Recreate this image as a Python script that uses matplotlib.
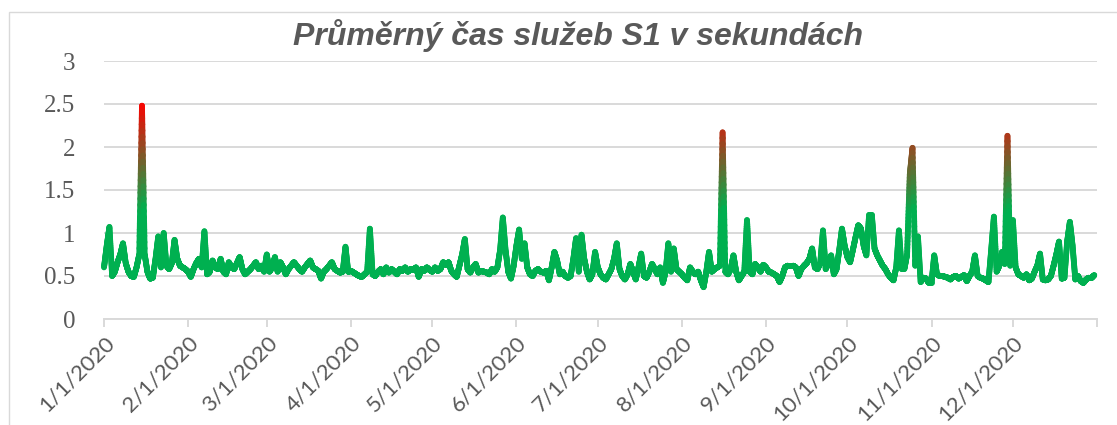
import numpy as np
import pandas as pd
import matplotlib
matplotlib.use('Agg')
import matplotlib.pyplot as plt
import matplotlib.dates as mdates
from matplotlib.collections import LineCollection
from matplotlib.colors import LinearSegmentedColormap, Normalize
from matplotlib.patches import Rectangle
from matplotlib.transforms import ScaledTranslation

title = 'Průměrný čas služeb S1 v sekundách'

# daily average service time (s)
jan = [0.60, 0.85, 1.07, 0.50, 0.55, 0.66, 0.75, 0.88, 0.65, 0.55,
       0.50, 0.49, 0.60, 0.75, 2.48, 0.75, 0.55, 0.47, 0.48, 0.70,
       0.96, 0.60, 1.00, 0.62, 0.58, 0.65, 0.92, 0.70, 0.62, 0.60, 0.58]
feb = [0.55, 0.49, 0.58, 0.65, 0.70, 0.60, 1.02, 0.52, 0.55, 0.68,
       0.60, 0.58, 0.70, 0.55, 0.52, 0.66, 0.60, 0.58, 0.65, 0.72,
       0.58, 0.52, 0.55, 0.58, 0.62, 0.66, 0.58, 0.62, 0.55]
mar = [0.75, 0.55, 0.60, 0.72, 0.55, 0.66, 0.60, 0.52, 0.58, 0.62,
       0.66, 0.62, 0.58, 0.55, 0.60, 0.64, 0.68, 0.60, 0.58, 0.56,
       0.47, 0.55, 0.58, 0.62, 0.66, 0.58, 0.56, 0.54, 0.55, 0.84, 0.55]
apr = [0.56, 0.54, 0.52, 0.50, 0.49, 0.52, 0.55, 1.05, 0.52, 0.50,
       0.55, 0.58, 0.52, 0.60, 0.54, 0.58, 0.55, 0.52, 0.58, 0.56,
       0.60, 0.55, 0.58, 0.57, 0.60, 0.49, 0.58, 0.56, 0.60, 0.57]
may = [0.55, 0.60, 0.56, 0.58, 0.66, 0.63, 0.66, 0.56, 0.52, 0.49,
       0.62, 0.75, 0.93, 0.58, 0.54, 0.60, 0.64, 0.54, 0.56, 0.55,
       0.54, 0.52, 0.58, 0.55, 0.60, 0.80, 1.18, 0.80, 0.55, 0.47, 0.62]
jun = [0.85, 1.04, 0.70, 0.88, 0.60, 0.52, 0.50, 0.56, 0.58, 0.55,
       0.54, 0.56, 0.45, 0.60, 0.78, 0.68, 0.52, 0.55, 0.50, 0.48,
       0.50, 0.70, 0.94, 0.55, 0.98, 0.70, 0.55, 0.46, 0.52, 0.78]
jul = [0.60, 0.52, 0.48, 0.46, 0.52, 0.58, 0.70, 0.88, 0.58, 0.50,
       0.46, 0.52, 0.64, 0.55, 0.46, 0.60, 0.76, 0.50, 0.48, 0.55,
       0.64, 0.58, 0.52, 0.60, 0.42, 0.55, 0.88, 0.55, 0.82, 0.58, 0.55]
aug = [0.52, 0.48, 0.45, 0.60, 0.55, 0.52, 0.55, 0.45, 0.37, 0.55,
       0.78, 0.55, 0.58, 0.60, 0.62, 2.17, 0.55, 0.52, 0.58, 0.74,
       0.55, 0.45, 0.50, 0.55, 1.15, 0.55, 0.52, 0.64, 0.60, 0.55, 0.63]
sep = [0.60, 0.55, 0.54, 0.52, 0.50, 0.43, 0.50, 0.60, 0.62, 0.62,
       0.62, 0.60, 0.50, 0.58, 0.62, 0.65, 0.70, 0.82, 0.60, 0.58,
       0.65, 1.03, 0.58, 0.65, 0.74, 0.52, 0.58, 0.80, 1.05, 0.85]
oct_ = [0.72, 0.66, 0.80, 0.95, 1.09, 1.05, 0.85, 0.74, 1.21, 1.21,
        0.82, 0.74, 0.68, 0.62, 0.58, 0.52, 0.48, 0.45, 0.60, 1.03,
        0.58, 0.58, 0.75, 1.68, 1.99, 0.62, 0.96, 0.43, 0.48, 0.47, 0.42]
nov = [0.42, 0.74, 0.52, 0.50, 0.50, 0.49, 0.48, 0.46, 0.49, 0.50,
       0.47, 0.49, 0.51, 0.44, 0.50, 0.55, 0.74, 0.50, 0.48, 0.47,
       0.45, 0.43, 0.80, 1.19, 0.55, 0.62, 0.78, 0.64, 2.13, 0.62]
dec = [1.15, 0.60, 0.52, 0.50, 0.48, 0.52, 0.45, 0.47, 0.55, 0.62,
       0.76, 0.46, 0.45, 0.46, 0.50, 0.62, 0.75, 0.90, 0.47, 0.48,
       0.90, 1.13, 0.85, 0.46, 0.50, 0.44, 0.42, 0.46, 0.48, 0.48, 0.51]

y_ticks = [0, 0.5, 1, 1.5, 2, 2.5, 3]
y_tick_labels = ['0', '0.5', '1', '1.5', '2', '2.5', '3']

values = np.array(jan + feb + mar + apr + may + jun + jul + aug + sep + oct_ + nov + dec)
days = pd.date_range('2020-01-01', periods=len(values), freq='D')
month_starts = pd.date_range('2020-01-01', '2021-01-01', freq='MS')
x_labels = ['%d/%d/%d' % (d.month, d.day, d.year) for d in month_starts[:-1]] + ['']

W, H = 1117, 425
fig = plt.figure(figsize=(W / 100, H / 100), dpi=100)
ax = fig.add_axes([104 / W, 1 - 319 / H, 993 / W, 258 / H])

# split each daily step into short pieces so the colour can follow the height
x = mdates.date2num(days)
n_sub = 24
segs, mids = [], []
for i in range(len(x) - 1):
    t = np.linspace(0, 1, n_sub + 1)
    xs = x[i] + t * (x[i + 1] - x[i])
    ys = values[i] + t * (values[i + 1] - values[i])
    for j in range(n_sub):
        segs.append([(xs[j], ys[j]), (xs[j + 1], ys[j + 1])])
        mids.append((ys[j] + ys[j + 1]) / 2)
cmap = LinearSegmentedColormap.from_list('gr', ['#00b050', '#ff0000'])
norm = Normalize(1.25, 2.5, clip=True)
lc = LineCollection(segs, colors=cmap(norm(np.array(mids))), linewidths=4.2,
                    capstyle='round', joinstyle='round', clip_on=False, zorder=3)
ax.add_collection(lc)

ax.set_xlim(mdates.date2num(pd.Timestamp('2020-01-01')), mdates.date2num(pd.Timestamp('2021-01-01')))
ax.set_ylim(0, 3)
ax.set_yticks(y_ticks)
ax.set_xticks(mdates.date2num(month_starts))

ax.grid(axis='y', color='#d9d9d9', linewidth=1.4)
ax.set_axisbelow(True)
for s in ['top', 'right', 'left']:
    ax.spines[s].set_visible(False)
ax.spines['bottom'].set_color('#d9d9d9')
ax.spines['bottom'].set_linewidth(1.4)
ax.tick_params(axis='y', which='major', length=0)
ax.tick_params(axis='x', which='major', direction='out', length=6, width=1.4, color='#d9d9d9', pad=4)

ax.set_yticklabels(y_tick_labels, family='Liberation Serif', fontsize=18, color='#595959')
ax.set_xticklabels(x_labels, rotation=45, ha='right', rotation_mode='anchor',
                   family='Lato', fontsize=16, color='#595959')
# push the value labels away from the plot area
shift = ScaledTranslation(-17 / 72, 0, fig.dpi_scale_trans)
for lbl in ax.get_yticklabels():
    lbl.set_transform(lbl.get_transform() + shift)

fig.text(578 / W, 1 - 36 / H, title, ha='center', va='center', fontsize=23,
         fontweight='bold', fontstyle='italic', color='#595959', family='Liberation Sans')

fig.patches.append(Rectangle((9 / W, -0.1), 1.2, (H - 12) / H + 0.1, transform=fig.transFigure,
                             fill=False, edgecolor='#d9d9d9', linewidth=1))

fig.savefig('out.png', dpi=100)
